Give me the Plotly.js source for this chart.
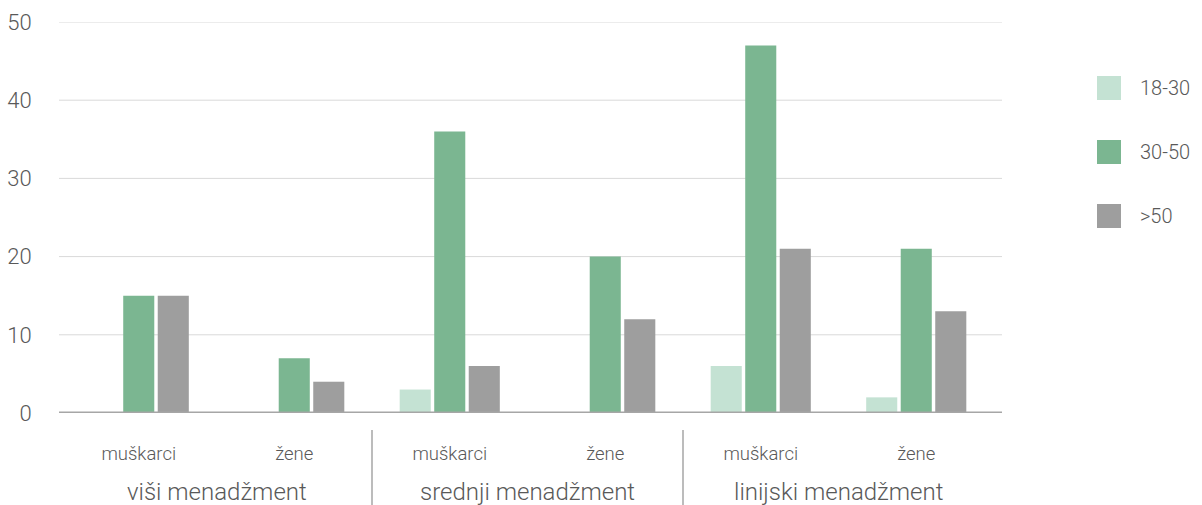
<!DOCTYPE html>
<html><head><meta charset="utf-8">
<script src="https://cdn.plot.ly/plotly-3.0.1.min.js"></script>
<style>body{margin:0;background:#fff}#c{width:1202px;height:505px}</style>
</head><body><div id="c"></div>
<script>
const groups = ["viši menadžment", "srednji menadžment", "linijski menadžment"];
const genders = ["muškarci", "žene"];
const seriesNames = ["18-30", "30-50", ">50"];
const seriesColors = ["#c4e2d3", "#7bb691", "#9e9e9e"];
const v18_30 = [0, 0, 3, 0, 6, 2];
const v30_50 = [15, 7, 36, 20, 47, 21];
const v50plus = [15, 4, 6, 12, 21, 13];
const yTicks = [0, 10, 20, 30, 40, 50];

const cats = [], catText = [];
groups.forEach((g, gi) => genders.forEach(s => { cats.push(gi + "|" + s); catText.push(s); }));
const vals = [v18_30, v30_50, v50plus];
const FONT = "Roboto, 'Open Sans', sans-serif";
const TXT = "#595959";
const L = 61, R = 994, T = 22, B = 413;
const PW = R - L, PH = B - T;

const traces = vals.map((v, i) => ({
  type: "bar", x: cats, y: v, name: seriesNames[i],
  marker: { color: seriesColors[i] }, showlegend: false, hoverinfo: "y"
}));

const annotations = groups.map((g, gi) => ({
  x: gi * 2 + 0.5, xref: "x", y: 0, yref: "paper", yshift: -79, yanchor: "middle",
  text: g, showarrow: false, font: { family: FONT, size: 24, color: TXT, weight: 300 }
}));
const shapes = [];
// gridlines (extend slightly beyond plot area as in the reference)
yTicks.forEach(t => shapes.push({
  type: "line", xref: "paper", yref: "y", x0: (59 - L) / PW, x1: (1002 - L) / PW, y0: t, y1: t,
  line: { color: t === 0 ? "#a6a6a6" : "#d9d9d9", width: t === 0 ? 3 : 1 }, layer: t === 0 ? "above" : "below"
}));
[1.5, 3.5].forEach(p => shapes.push({
  type: "line", xref: "x", yref: "paper", x0: p, x1: p, y0: (B - 430) / PH, y1: (B - 505) / PH,
  line: { color: "#a6a6a6", width: 1.5 }
}));
// legend
seriesNames.forEach((n, i) => {
  const yc = 88 + i * 64;
  shapes.push({ type: "rect", xref: "paper", yref: "paper",
    x0: (1097 - L) / PW, x1: (1121 - L) / PW,
    y0: (B - (yc + 12)) / PH, y1: (B - (yc - 12)) / PH,
    fillcolor: seriesColors[i], line: { width: 0 } });
  annotations.push({ xref: "paper", yref: "paper", x: (1138 - L) / PW, y: (B - yc) / PH,
    xanchor: "left", yanchor: "middle", text: n, showarrow: false,
    font: { family: FONT, size: 20, color: TXT, weight: 300 } });
});

const layout = {
  width: 1202, height: 505,
  margin: { l: L, r: 1202 - R, t: T, b: 505 - B },
  paper_bgcolor: "#fff", plot_bgcolor: "#fff",
  barmode: "group", bargap: 0.334, bargroupgap: 0.1,
  showlegend: false,
  font: { family: FONT, color: TXT },
  xaxis: {
    type: "category", tickvals: cats, ticktext: catText,
    tickfont: { family: FONT, size: 18.5, color: TXT, weight: 300 },
    ticks: "outside", ticklen: 24, tickcolor: "rgba(0,0,0,0)",
    showgrid: false, zeroline: false, showline: false
  },
  yaxis: {
    range: [0, 50], tickvals: yTicks, ticktext: yTicks.map(String),
    tickfont: { family: FONT, size: 22, color: TXT, weight: 300 },
    showgrid: false, zeroline: false,
    ticks: "outside", ticklen: 24, tickcolor: "rgba(0,0,0,0)", showline: false
  },
  annotations, shapes
};
Plotly.newPlot("c", traces, layout, { displayModeBar: false, staticPlot: true });
</script></body></html>
